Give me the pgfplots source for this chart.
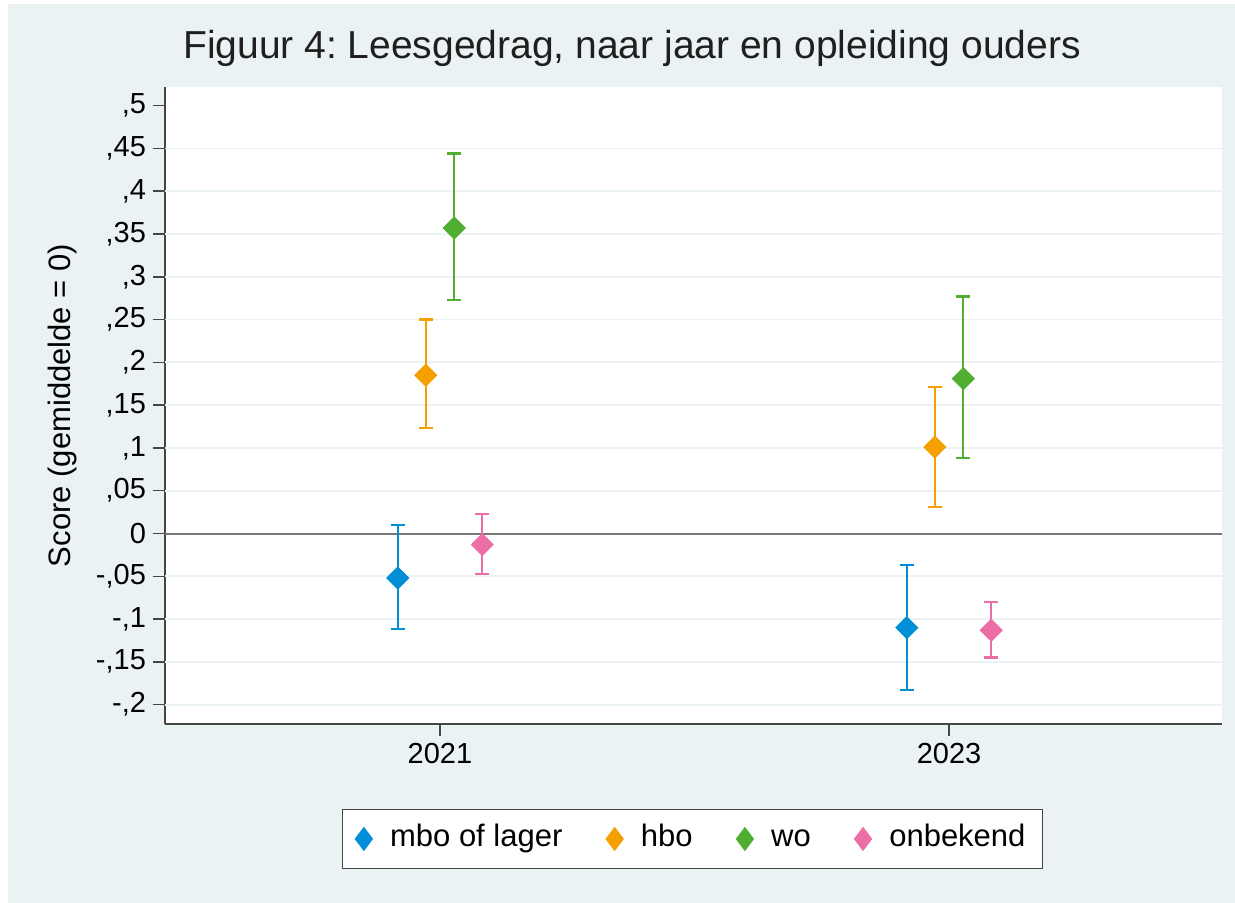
\documentclass[border=0pt]{standalone}
\usepackage{fontspec}
\setmainfont{Liberation Sans}
\usepackage{pgfplots}
\usepackage{pgfplotstable}
\pgfplotsset{compat=1.18}
\frenchspacing

\definecolor{bgblue}{RGB}{234,242,243}
\definecolor{cmbo}{RGB}{0,142,214}
\definecolor{chbo}{RGB}{245,160,0}
\definecolor{cwo}{RGB}{80,174,50}
\definecolor{conb}{RGB}{236,110,166}
\definecolor{axgray}{RGB}{70,70,70}
\definecolor{zerogray}{RGB}{120,120,120}

% x = year + offset, y = score, ep/em = distance to upper/lower bound
\pgfplotstableread{
x        y       ep     em
2020.834 -0.052  0.062  0.060
2022.834 -0.110  0.073  0.073
}\mbo
\pgfplotstableread{
x        y       ep     em
2020.944  0.185  0.065  0.062
2022.944  0.101  0.070  0.070
}\hbo
\pgfplotstableread{
x        y       ep     em
2021.056  0.357  0.087  0.084
2023.056  0.181  0.096  0.093
}\wo
\pgfplotstableread{
x        y       ep     em
2021.166 -0.013  0.036  0.034
2023.166 -0.113  0.033  0.032
}\onb

\pgfplotsset{
  ciplot/.style={
    only marks, color=#1,
    mark=square*, mark size=3.9pt,
    mark options={rotate=45, draw=#1, fill=#1},
    error bars/.cd, y dir=both, y explicit,
    error bar style={line width=1.1pt, #1},
    error mark options={rotate=90, mark size=3.5pt, line width=1.1pt, #1}
  }
}

\begin{document}
\begin{tikzpicture}
\useasboundingbox (0,0) rectangle (617.5pt,451.5pt);
\fill[white] (0,0) rectangle (617.5pt,451.5pt);
\fill[bgblue] (4pt,0) rectangle (617.5pt,449.5pt);
\begin{axis}[
  at={(82.5pt,89.5pt)}, anchor=south west,
  scale only axis, width=528.5pt, height=318.5pt,
  xmin=2019.9196, xmax=2024.0725, ymin=-0.2226, ymax=0.5218,
  axis x line*=bottom, axis y line*=left,
  axis line style={axgray, line width=1pt, -},
  axis background/.style={fill=white},
  xtick={2021,2023}, xticklabels={2021,2023},
  ytick={-0.2,-0.15,-0.1,-0.05,0,0.05,0.1,0.15,0.2,0.25,0.3,0.35,0.4,0.45,0.5},
  yticklabels={{-,2},{-,15},{-,1},{-,05},0,{,05},{,1},{,15},{,2},{,25},{,3},{,35},{,4},{,45},{,5}},
  tick align=outside, major tick length=6pt,
  tick style={axgray, line width=0.75pt},
  ticklabel style={font=\fontsize{14.5}{16}\selectfont},
  extra y ticks={-0.2,-0.15,-0.1,-0.05,0.05,0.1,0.15,0.2,0.25,0.3,0.35,0.4,0.45},
  extra y tick labels={},
  extra y tick style={grid=major, major tick length=0pt,
    major grid style={bgblue, line width=0.9pt}},
  title={Figuur 4: Leesgedrag, naar jaar en opleiding ouders},
  title style={at={(axis description cs:0.4418,1.041)}, anchor=center, yshift=0pt,
    font=\fontsize{19.5}{22}\selectfont, text=black!88},
  ylabel={Score (gemiddelde = 0)},
  ylabel style={at={(axis description cs:-0.0974,0.5)}, anchor=center,
    font=\fontsize{15.5}{18}\selectfont},
  legend columns=4,
  legend style={at={(axis description cs:0.4991,-0.1805)}, anchor=center,
    draw=axgray, line width=0.75pt, fill=white,
    inner xsep=6.5pt, inner ysep=5.25pt,
    font=\fontsize{15.5}{18}\selectfont,
    nodes={text height=11.5pt, text depth=3.5pt},
    /tikz/every odd column/.style={column sep=7pt},
    /tikz/every even column/.style={column sep=20pt}},
  legend image code/.code={\draw[mark repeat=2,mark phase=2,#1,
    mark=diamond*, mark size=5.5pt, mark options={rotate=0}]
    plot coordinates {(0pt,0pt)(6pt,0pt)(12pt,0pt)};},
]
\draw[zerogray, line width=1pt] (axis cs:2019.9196,0) -- (axis cs:2024.0725,0);
\addplot[ciplot=cmbo] table[x=x, y=y, y error plus=ep, y error minus=em] {\mbo};
\addlegendentry{mbo of lager}
\addplot[ciplot=chbo] table[x=x, y=y, y error plus=ep, y error minus=em] {\hbo};
\addlegendentry{hbo}
\addplot[ciplot=cwo] table[x=x, y=y, y error plus=ep, y error minus=em] {\wo};
\addlegendentry{wo}
\addplot[ciplot=conb] table[x=x, y=y, y error plus=ep, y error minus=em] {\onb};
\addlegendentry{onbekend}
\end{axis}
\end{tikzpicture}
\end{document}
